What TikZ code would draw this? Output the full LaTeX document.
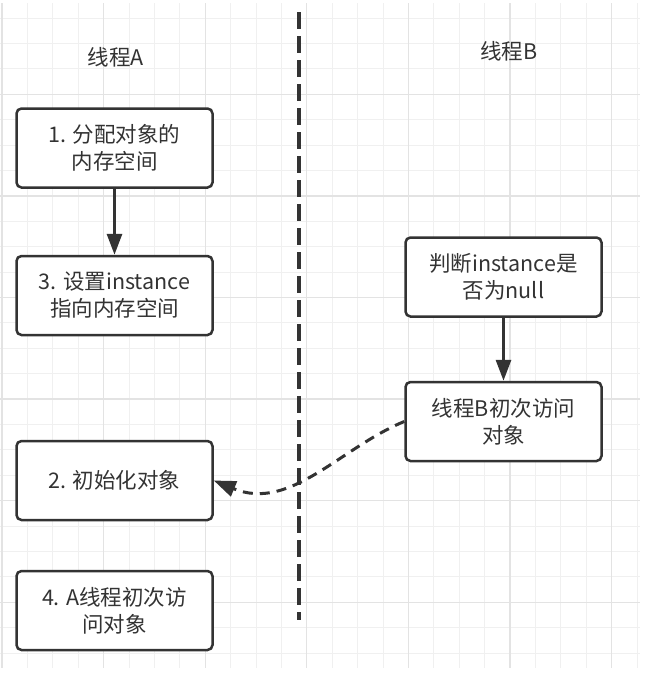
\documentclass[tikz,border=0pt]{standalone}
\usepackage{fontspec}
\setmainfont{Noto Sans CJK SC}
\usetikzlibrary{arrows.meta}
\definecolor{ink}{HTML}{333333}
\definecolor{gridminor}{HTML}{F0F0F0}
\definecolor{gridmajor}{HTML}{E3E3E3}
\tikzset{
  stepbox/.style={draw=ink, line width=2.5pt, rounded corners=5pt, fill=white,
    minimum width=196pt, minimum height=79pt, inner sep=0pt, align=center,
    text=ink, font=\fontsize{21.5}{27}\selectfont},
  title/.style={text=ink, font=\fontsize{21.5}{27}\selectfont, inner sep=0pt},
  flow/.style={draw=ink, line width=3pt, -{Triangle[length=21pt,width=15pt]}},
  async/.style={draw=ink, line width=3pt, dash pattern=on 10pt off 7pt,
    -{Triangle[length=22pt,width=16pt]}},
  divider/.style={draw=ink, line width=3.5pt, dash pattern=on 17pt off 7pt},
  gminor/.style={draw=gridminor, line width=1pt},
  gmajor/.style={draw=gridmajor, line width=1.3pt}
}
\begin{document}
\begin{tikzpicture}[x=1pt,y=-1pt]
\useasboundingbox (0,0) rectangle (650,678);
% grid
\foreach \i in {0,...,25} \draw[gminor] ({2+25.4*\i},3) -- ({2+25.4*\i},668);
\foreach \j in {1,...,26} \draw[gminor] (0,{-7.3+25.4*\j}) -- (640,{-7.3+25.4*\j});
\foreach \i in {0,4,...,24} \draw[gmajor] ({2+25.4*\i},3) -- ({2+25.4*\i},668);
\foreach \j in {4,8,...,24} \draw[gmajor] (0,{-7.3+25.4*\j}) -- (640,{-7.3+25.4*\j});
% divider
\coordinate (dtop) at (299,12);
\coordinate (dbot) at (299,620);
\draw[divider] (dtop) -- (dbot);
% titles
\node[title] (ta) at (116,57) {线程A};
\node[title] (tb) at (509,51) {线程B};
% thread A
\node[stepbox] (a1) at (114.5,148) {1. 分配对象的\\内存空间};
\node[stepbox] (a3) at (114.5,295.5) {3. 设置instance\\指向内存空间};
\node[stepbox] (a2) at (114.5,480.5) {2. 初始化对象};
\node[stepbox] (a4) at (114.5,610.5) {4. A线程初次访\\问对象};
% thread B
\node[stepbox] (b1) at (503.5,277) {判断instance是\\否为null};
\node[stepbox] (b2) at (503.5,421.5) {线程B初次访问\\对象};
% connectors
\draw[flow] (a1.south) -- (a3.north);
\draw[flow] (b1.south) -- (b2.north);
\draw[async] (b2.west) .. controls (340,448) and (290,512) .. (a2.east);
\end{tikzpicture}
\end{document}
